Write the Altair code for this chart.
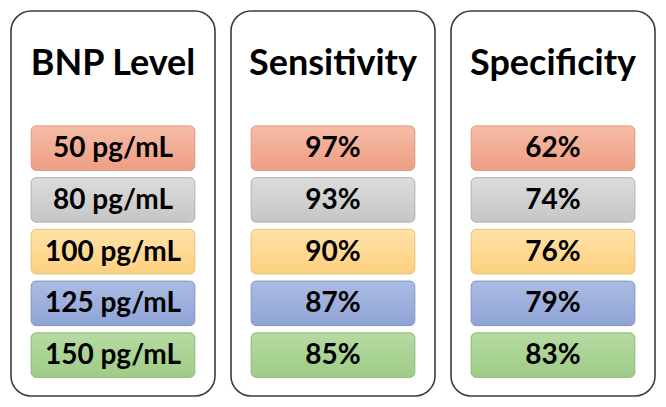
import altair as alt
import pandas as pd

headers = ["BNP Level", "Sensitivity", "Specificity"]
levels = ["50 pg/mL", "80 pg/mL", "100 pg/mL", "125 pg/mL", "150 pg/mL"]
sensitivity = [97, 93, 90, 87, 85]
specificity = [62, 74, 76, 79, 83]
row_top = ["#F6BCA5", "#DCDCDC", "#FFE2A6", "#ABBBE2", "#B6DBA2"]
row_bottom = ["#EE9E84", "#C6C6C6", "#FDD07F", "#8FA3D6", "#9FCB87"]
row_stroke = ["#DA9A83", "#AFAFAF", "#E3BE78", "#8193C2", "#8DB777"]

# layout constants (in scale units)
PH = 0.4636  # panel half-width
BH = 0.372   # box half-width
RH = 0.43    # box half-height
Y_TOP, Y_BOT = -2.65, 4.79
TITLE_Y = -1.62

xs = alt.Scale(domain=[-PH, 2 + PH], nice=False, zero=False)
ys = alt.Scale(domain=[Y_TOP, Y_BOT], nice=False, zero=False, reverse=True)

panels = pd.DataFrame({"c": range(3)})
panels["lo"] = panels["c"] - PH
panels["hi"] = panels["c"] + PH
panels["top"] = Y_TOP
panels["bot"] = Y_BOT

titles = pd.DataFrame({"c": range(3), "label": headers, "y": TITLE_Y})

cells = []
for r in range(len(levels)):
    texts = [levels[r], f"{sensitivity[r]}%", f"{specificity[r]}%"]
    for c in range(3):
        cells.append({"c": c, "r": r, "label": texts[c],
                      "lo": c - BH, "hi": c + BH, "y1": r - RH, "y2": r + RH})
cells = pd.DataFrame(cells)

panel_layer = alt.Chart(panels).mark_rect(
    cornerRadius=20, fill="white", stroke="#3C3C3C", strokeWidth=1.6
).encode(
    x=alt.X("lo:Q", scale=xs, axis=None), x2="hi:Q",
    y=alt.Y("top:Q", scale=ys, axis=None), y2="bot:Q",
)

box_layers = []
for r in range(len(levels)):
    grad = alt.Gradient(
        gradient="linear",
        stops=[alt.GradientStop(color=row_top[r], offset=0),
               alt.GradientStop(color=row_bottom[r], offset=1)],
        x1=0, x2=0, y1=0, y2=1,
    )
    box_layers.append(
        alt.Chart(cells[cells["r"] == r]).mark_rect(
            cornerRadius=5, color=grad, stroke=row_stroke[r], strokeWidth=1
        ).encode(
            x=alt.X("lo:Q", scale=xs, axis=None), x2="hi:Q",
            y=alt.Y("y1:Q", scale=ys, axis=None), y2="y2:Q",
        )
    )

title_layer = alt.Chart(titles).mark_text(
    font="Lato", fontSize=36, fontWeight="bold", color="#000000"
).encode(
    x=alt.X("c:Q", scale=xs, axis=None),
    y=alt.Y("y:Q", scale=ys, axis=None),
    text="label:N",
)

cell_text = alt.Chart(cells).mark_text(
    font="Lato", fontSize=28, fontWeight="bold", color="#000000", dy=1
).encode(
    x=alt.X("c:Q", scale=xs, axis=None),
    y=alt.Y("r:Q", scale=ys, axis=None),
    text="label:N",
)

chart = alt.layer(panel_layer, *box_layers, title_layer, cell_text).properties(
    width=650, height=391, padding=2,
    autosize=alt.AutoSizeParams(type="fit", contains="padding"),
).configure_view(stroke=None)

chart.save("out.html", embed_options={"renderer": "svg", "actions": False})
